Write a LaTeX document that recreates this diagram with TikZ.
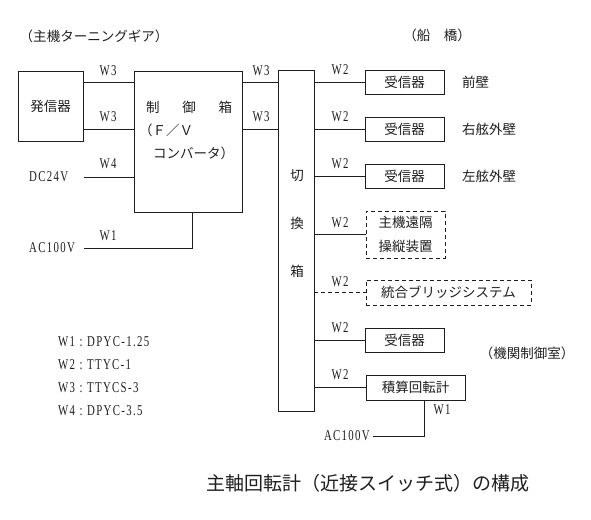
\documentclass[tikz,border=0pt]{standalone}
\usepackage{fontspec}
\usepackage{xcolor}
\usepackage{tikz}
\usetikzlibrary{arrows.meta,positioning,calc}
\setmainfont{Noto Sans CJK JP}
\newfontfamily\ltfam[FakeStretch=0.72, LetterSpace=9]{Liberation Serif}
\definecolor{ink}{HTML}{1E1E1E}
\newcommand{\Jp}{\fontsize{13.5}{16}\selectfont}
\newcommand{\Lt}{\ltfam\fontsize{15}{15}\selectfont}
\newcommand{\Cap}{\fontsize{19}{19}\selectfont}
\tikzset{
  box/.style={draw=ink, line width=0.9pt, inner sep=0pt, font=\Jp, text=ink},
  dbox/.style={box, dash pattern=on 4pt off 3pt},
  rcv/.style={box, minimum width=79pt, minimum height=24pt},
  wl/.style={font=\Lt, text=ink, inner sep=0pt},
  jl/.style={font=\Jp, text=ink, inner sep=0pt},
  wire/.style={draw=ink, line width=0.9pt},
}

\begin{document}
\begin{tikzpicture}[x=1pt, y=-1pt]
  \useasboundingbox (0,0) rectangle (591,519);
  \node[jl] (tgear) at (94,36) {（主機ターニングギア）};
  \node[jl] (bridge) at (437,35) {（船　橋）};
  \node[jl] (ecr) at (527,353) {（機関制御室）};

  \node[box, minimum width=65pt, minimum height=70pt] (hass) at (50.5,106) {発信器};
  \node[box, minimum width=108pt, minimum height=141pt] (ctrl) at (188,141.5) {};
  \node[jl, anchor=west] (ctrla) at (146,107) {\makebox[86pt]{制\hfill 御\hfill 箱}};
  \node[jl, anchor=west] (ctrlb) at (139,130) {（Ｆ／Ｖ};
  \node[jl, anchor=west] (ctrlc) at (153,153) {コンバータ）};
  \node[box, minimum width=36pt, minimum height=341pt] (sw) at (296,240.5) {};
  \node[jl] (swa) at (297,176) {切};
  \node[jl] (swb) at (297,223) {換};
  \node[jl] (swc) at (297,271) {箱};

  \coordinate (l1) at (0,82);
  \coordinate (l2) at (0,129);
  \draw[wire] (hass.east |- l1) -- (ctrl.west |- l1);
  \draw[wire] (hass.east |- l2) -- (ctrl.west |- l2);
  \draw[wire] (ctrl.east |- l1) -- (sw.west |- l1);
  \draw[wire] (ctrl.east |- l2) -- (sw.west |- l2);
  \node[wl] (w3a) at (108,71) {W3};
  \node[wl] (w3b) at (108,117) {W3};
  \node[wl] (w3c) at (261,71) {W3};
  \node[wl] (w3d) at (261,117) {W3};

  \node[wl, anchor=west] (dc) at (29,177) {DC24V};
  \coordinate (dcend) at (84,177);
  \draw[wire] (dcend) -- (ctrl.west |- dcend);
  \node[wl] (w4) at (108,164) {W4};
  \node[wl, anchor=west] (ac) at (29,248) {AC100V};
  \coordinate (acend) at (84,248);
  \draw[wire] (acend) -| ([xshift=4pt]ctrl.south);
  \node[wl] (w1a) at (108,236) {W1};

  \node[rcv] (rcv1) at (404.5,82) {受信器};
  \node[rcv] (rcv2) at (404.5,129) {受信器};
  \node[rcv] (rcv3) at (404.5,176) {受信器};
  \node[dbox, minimum width=79pt, minimum height=47pt, align=center,
        font=\fontsize{13.5}{24}\selectfont] (remote) at (405.5,234.5) {主機遠隔\\操縦装置};
  \node[dbox, minimum width=165pt, minimum height=25pt] (ibs) at (448.5,292.5) {統合ブリッジシステム};
  \node[rcv] (rcv4) at (404.5,340) {受信器};
  \node[box, minimum width=99pt, minimum height=25pt] (integ) at (415.5,387.5) {積算回転計};
  \node[jl, anchor=west] (fwall) at (462,82) {前壁};
  \node[jl, anchor=west] (swall) at (462,129) {右舷外壁};
  \node[jl, anchor=west] (pwall) at (462,176) {左舷外壁};

  \draw[wire] (sw.east |- rcv1) -- (rcv1.west);
  \draw[wire] (sw.east |- rcv2) -- (rcv2.west);
  \draw[wire] (sw.east |- rcv3) -- (rcv3.west);
  \draw[wire] (sw.east |- remote) -- (remote.west);
  \draw[wire, dash pattern=on 4pt off 3pt] (sw.east |- ibs) -- (ibs.west);
  \draw[wire] (sw.east |- rcv4) -- (rcv4.west);
  \draw[wire] (sw.east |- integ) -- (integ.west);
  \node[wl] (w2a) at (340,70) {W2};
  \node[wl] (w2b) at (340,117) {W2};
  \node[wl] (w2c) at (340,164) {W2};
  \node[wl] (w2d) at (340,223) {W2};
  \node[wl] (w2e) at (340,282) {W2};
  \node[wl] (w2f) at (340,328) {W2};
  \node[wl] (w2g) at (340,375) {W2};

  \node[wl, anchor=east] (ac2) at (370,436) {AC100V};
  \coordinate (ac2end) at (373,436);
  \draw[wire] ([xshift=8.5pt]integ.south) |- (ac2end);
  \node[wl] (w1b) at (442,410) {W1};

  \node[wl, anchor=west] (lega) at (58,342) {W1\hspace{4.5pt}:\hspace{4.5pt}DPYC-1.25};
  \node[wl, anchor=west] (legb) at (58,365) {W2\hspace{4.5pt}:\hspace{4.5pt}TTYC-1};
  \node[wl, anchor=west] (legc) at (58,388) {W3\hspace{4.5pt}:\hspace{4.5pt}TTYCS-3};
  \node[wl, anchor=west] (legd) at (58,411) {W4\hspace{4.5pt}:\hspace{4.5pt}DPYC-3.5};

  \node[font=\Cap, text=ink] (cap) at (367.5,483) {主軸回転計（近接スイッチ式）の構成};
\end{tikzpicture}
\end{document}
